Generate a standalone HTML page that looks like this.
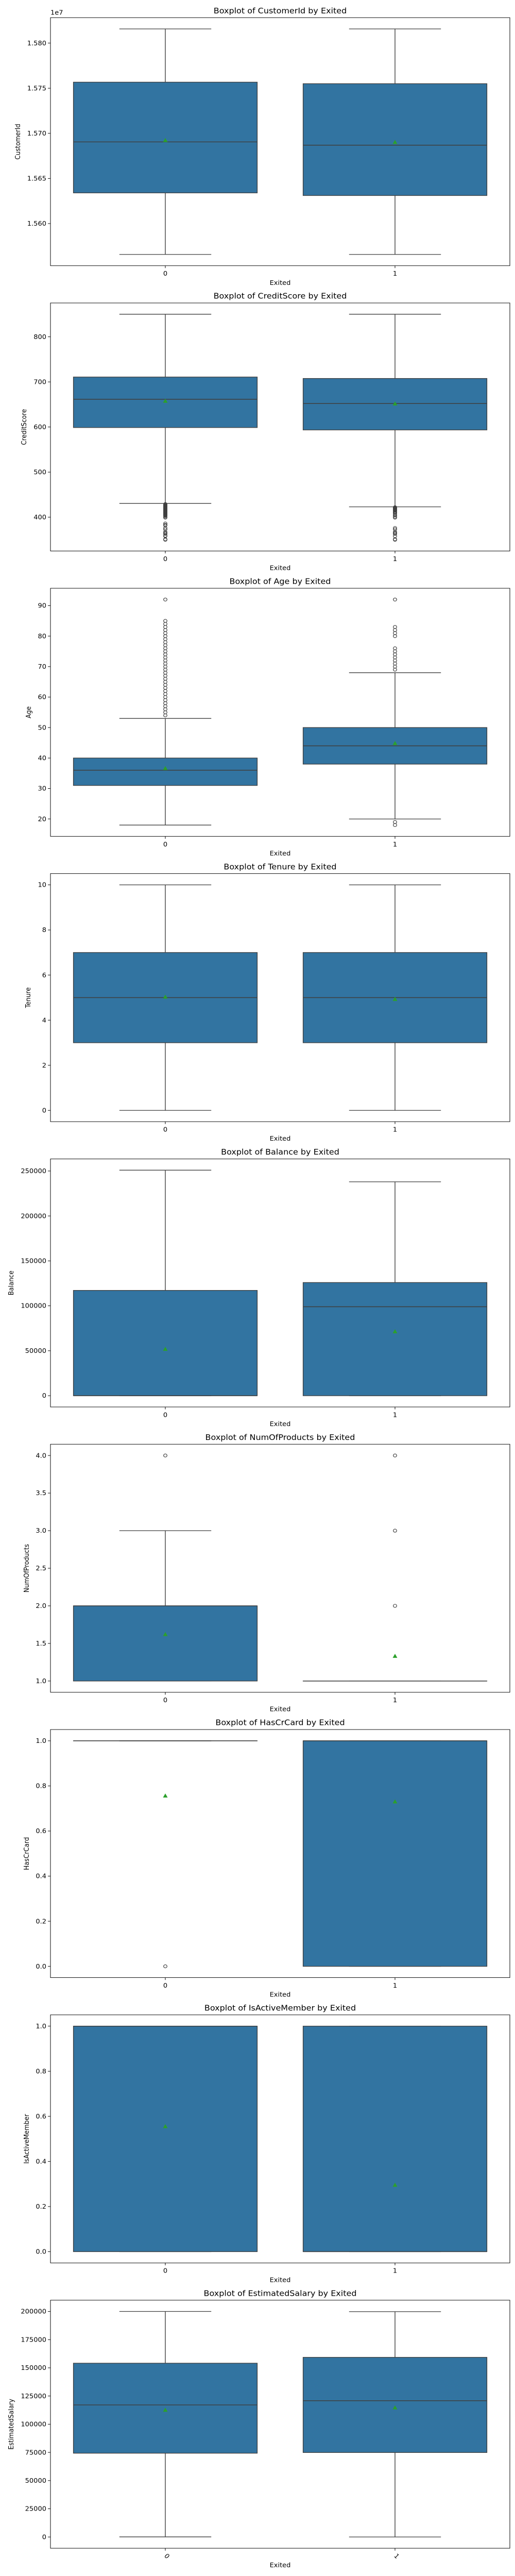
<!DOCTYPE html>
<html><head><meta charset="utf-8">
<style>
html,body{margin:0;padding:0;background:#fff;width:100%;height:100%;overflow:hidden;}
svg{display:block;position:absolute;left:0;top:0;width:100%;height:100%;font-family:"DejaVu Sans","Liberation Sans",sans-serif;}
</style></head>
<body>
<svg id="chart" viewBox="0 0 1000 5400" preserveAspectRatio="none" xmlns="http://www.w3.org/2000/svg"></svg>
<script>
// ---- data ----
const variables = ["CustomerId","CreditScore","Age","Tenure","Balance","NumOfProducts","HasCrCard","IsActiveMember","EstimatedSalary"];
const categories = ["0","1"];
const q1Vals = [[15634000,15631100],[598.8,593.5],[31,38],[3,3],[0,0],[1,1],[1,0],[0,0],[74300,74900]];
const medianVals = [[15690500,15686900],[661.5,652],[36,44],[5,5],[0,99000],[2,1],[1,1],[1,0],[117100,120840]];
const q3Vals = [[15756700,15755000],[710.8,707.6],[40,50],[7,7],[117150,125900],[2,1],[1,1],[1,1],[154100,159300]];
const whiskerLow = [[15565800,15565800],[430.5,423],[18,20],[0,0],[0,0],[1,1],[1,0],[0,0],[90,12]];
const whiskerHigh = [[15815700,15815700],[850,850],[53,68],[10,10],[250900,237980],[3,1],[1,1],[1,1],[199990,199810]];
const meanVals = [[15692200,15690100],[657.5,651.5],[36.6,44.8],[5.03,4.93],[51800,71300],[1.62,1.33],[0.756,0.73],[0.555,0.295],[112500,114600]];
const outliers0 = [[],
  [429,428,427,426,425,424,423,422,421,420,419,418,417,416,415,414,413,412,411,410,409,408,407,406,405,404,403,401,399,386,383,382,376,373,367,365,363,359,358,351,350],
  [54,55,56,57,58,59,60,61,62,63,64,65,66,67,68,69,70,71,72,73,74,75,76,77,78,79,80,81,82,83,84,85,92],
  [],[],[4],[0],[],[]];
const outliers1 = [[],
  [422,421,420,419,418,417,416,415,414,412,411,410,408,405,404,401,399,376,373,367,365,363,358,351,350],
  [69,70,71,72,73,74,75,76,80,81,82,83,92,18,19],
  [],[],[2,3,4],[],[],[]];
const tickVals = [
  [15600000,15650000,15700000,15750000,15800000],
  [400,500,600,700,800],
  [20,30,40,50,60,70,80,90],
  [0,2,4,6,8,10],
  [0,50000,100000,150000,200000,250000],
  [1.0,1.5,2.0,2.5,3.0,3.5,4.0],
  [0,0.2,0.4,0.6,0.8,1.0],
  [0,0.2,0.4,0.6,0.8,1.0],
  [0,25000,50000,75000,100000,125000,150000,175000,200000]];
const tickLabels = [
  ["1.560","1.565","1.570","1.575","1.580"],
  ["400","500","600","700","800"],
  ["20","30","40","50","60","70","80","90"],
  ["0","2","4","6","8","10"],
  ["0","50000","100000","150000","200000","250000"],
  ["1.0","1.5","2.0","2.5","3.0","3.5","4.0"],
  ["0.0","0.2","0.4","0.6","0.8","1.0"],
  ["0.0","0.2","0.4","0.6","0.8","1.0"],
  ["0","25000","50000","75000","100000","125000","150000","175000","200000"]];

// ---- layout ----
const NS = "http://www.w3.org/2000/svg";
const svg = document.getElementById("chart");
const AX_L = 98, AX_W = 892, AX_H = 520, PERIOD = 598.1, TOP0 = 37;
const yLabelX = [35,47,56,55,22,52,52,52,22];
const BOX_C = "#3274a1", LINE_C = "#3f3f3f", MEAN_C = "#2ca02c";

function mk(tag, attrs, parent) {
  const e = document.createElementNS(NS, tag);
  for (const k in attrs) e.setAttribute(k, attrs[k]);
  (parent || svg).appendChild(e);
  return e;
}
function xCenter(g) { return AX_L + AX_W * (0.25 + 0.5 * g); }

variables.forEach((v, p) => {
  const top = TOP0 + PERIOD * p;
  const g = mk("g", {});
  
  
  const all = [].concat(whiskerLow[p], whiskerHigh[p], outliers0[p], outliers1[p], q1Vals[p], q3Vals[p]);
  const mn = Math.min.apply(null, all), mx = Math.max.apply(null, all);
  const r = (mx - mn) || 1;
  const dmin = mn - 0.05 * r, dmax = mx + 0.05 * r;
  const y = val => top + (dmax - val) / (dmax - dmin) * AX_H;

  const t = mk("text", {x: AX_L + AX_W / 2, y: top - 9, "text-anchor": "middle", "font-size": "16", fill: "#000"}, g);
  t.textContent = "Boxplot of " + v + " by Exited";
  
  

  categories.forEach((c, gi) => {
    const cx = xCenter(gi), bw = AX_W * 0.4, cap = bw / 2;
    const bg = mk("g", {}, g);
    
    
    mk("line", {x1: cx, x2: cx, y1: y(q3Vals[p][gi]), y2: y(whiskerHigh[p][gi]), stroke: LINE_C, "stroke-width": 1.4}, bg);
    mk("line", {x1: cx, x2: cx, y1: y(q1Vals[p][gi]), y2: y(whiskerLow[p][gi]), stroke: LINE_C, "stroke-width": 1.4}, bg);
    mk("line", {x1: cx - cap / 2, x2: cx + cap / 2, y1: y(whiskerHigh[p][gi]), y2: y(whiskerHigh[p][gi]), stroke: LINE_C, "stroke-width": 1.4}, bg);
    mk("line", {x1: cx - cap / 2, x2: cx + cap / 2, y1: y(whiskerLow[p][gi]), y2: y(whiskerLow[p][gi]), stroke: LINE_C, "stroke-width": 1.4}, bg);
    const yt = y(q3Vals[p][gi]), yb = y(q1Vals[p][gi]);
    mk("rect", {x: cx - bw / 2, y: yt, width: bw, height: Math.max(yb - yt, 0.01), fill: BOX_C, stroke: LINE_C, "stroke-width": 1.4}, bg);
    mk("line", {x1: cx - bw / 2, x2: cx + bw / 2, y1: y(medianVals[p][gi]), y2: y(medianVals[p][gi]), stroke: LINE_C, "stroke-width": 1.6}, bg);
    const outs = gi === 0 ? outliers0[p] : outliers1[p];
    outs.forEach(o => {
      const ci = mk("circle", {cx: cx, cy: y(o), r: 3.3, fill: "none", stroke: LINE_C, "stroke-width": 1.2}, bg);
      
      
    });
    const my = y(meanVals[p][gi]);
    const tri = mk("polygon", {points: (cx) + "," + (my - 5) + " " + (cx - 4.5) + "," + (my + 3.5) + " " + (cx + 4.5) + "," + (my + 3.5), fill: MEAN_C}, bg);
    
    
  });

  const fr = mk("rect", {x: AX_L, y: top, width: AX_W, height: AX_H, fill: "none", stroke: "#000", "stroke-width": 1}, g);
  
  

  tickVals[p].forEach((tv, i) => {
    const ty = y(tv);
    mk("line", {x1: AX_L - 5, x2: AX_L, y1: ty, y2: ty, stroke: "#000", "stroke-width": 1}, g);
    const lt = mk("text", {x: AX_L - 8, y: ty + 4.5, "text-anchor": "end", "font-size": "13", fill: "#000"}, g);
    lt.textContent = tickLabels[p][i];
    
    
  });
  if (p === 0) {
    const off = mk("text", {x: AX_L, y: top - 6, "font-size": "13", fill: "#000"}, g);
    off.textContent = "1e7";
    
    
  }
  categories.forEach((c, gi) => {
    const cx = xCenter(gi);
    mk("line", {x1: cx, x2: cx, y1: top + AX_H, y2: top + AX_H + 5, stroke: "#000", "stroke-width": 1}, g);
    let xt;
    if (p === variables.length - 1) {
      xt = mk("text", {x: cx + 4, y: top + AX_H + 18, "text-anchor": "middle", "font-size": "13", fill: "#000", transform: "rotate(45 " + cx + " " + (top + AX_H + 14) + ")"}, g);
    } else {
      xt = mk("text", {x: cx, y: top + AX_H + 21, "text-anchor": "middle", "font-size": "13", fill: "#000"}, g);
    }
    xt.textContent = c;
    
    
  });
  const xl = mk("text", {x: AX_L + AX_W / 2, y: top + AX_H + 40, "text-anchor": "middle", "font-size": "13", fill: "#000"}, g);
  xl.textContent = "Exited";
  
  
  const ly = top + AX_H / 2;
  const yl = mk("text", {x: yLabelX[p], y: ly, "text-anchor": "middle", "font-size": "13", fill: "#000", transform: "rotate(-90 " + yLabelX[p] + " " + ly + ")", dy: "4"}, g);
  yl.textContent = v;
  
  
});
</script>
</body></html>
